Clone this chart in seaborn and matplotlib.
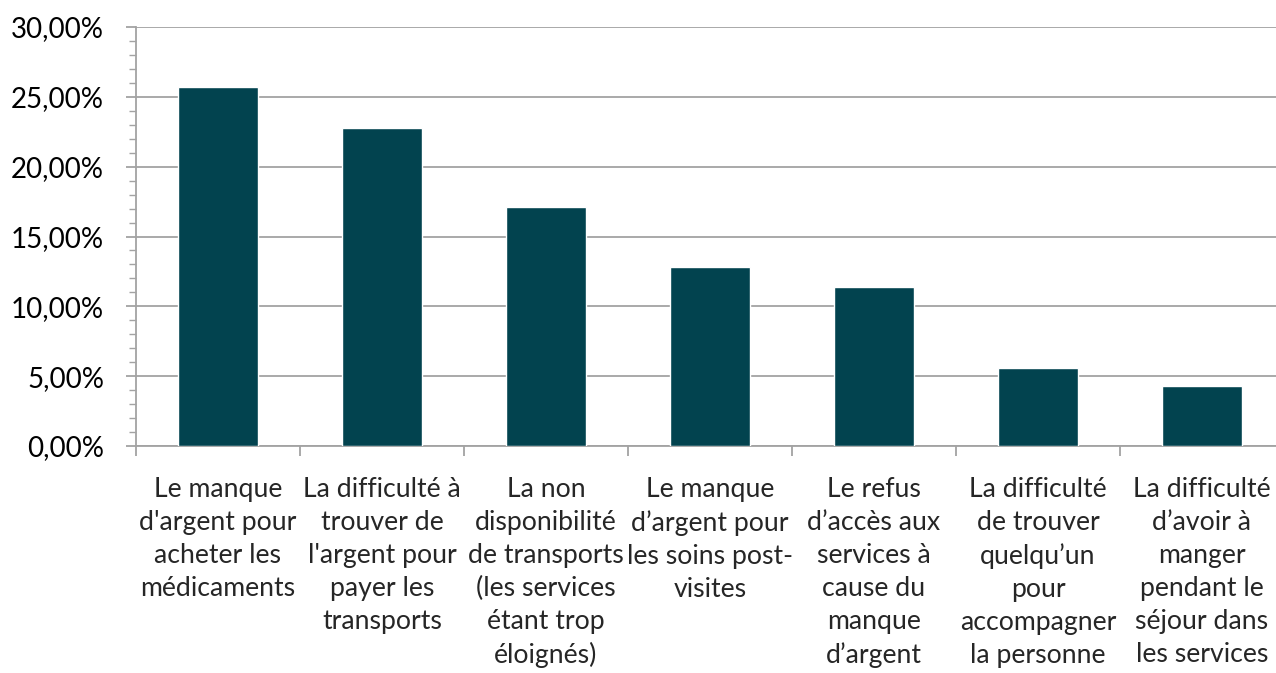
import numpy as np
import pandas as pd
import matplotlib
matplotlib.use("Agg")
import matplotlib.pyplot as plt
from matplotlib.ticker import FuncFormatter, MultipleLocator
import seaborn as sns

# Chart data
categories = [
    "Le manque\nd'argent pour\nacheter les\nmédicaments",
    "La difficulté à\ntrouver de\nl'argent pour\npayer les\ntransports",
    "La non\ndisponibilité\nde transports\n(les services\nétant trop\néloignés)",
    "Le manque\nd’argent pour\nles soins post-\nvisites",
    "Le refus\nd’accès aux\nservices à\ncause du\nmanque\nd’argent",
    "La difficulté\nde trouver\nquelqu’un\npour\naccompagner\nla personne",
    "La difficulté\nd’avoir à\nmanger\npendant le\nséjour dans\nles services",
]
values = [25.7, 22.8, 17.1, 12.8, 11.4, 5.6, 4.3]
y_ticks = [0, 5, 10, 15, 20, 25, 30]

bar_color = "#02434F"
grid_color = "#a3a3a3"

sns.set_style("white")
plt.rcParams["font.family"] = ["Lato", "DejaVu Sans"]

df = pd.DataFrame({"cat": categories, "val": values})

fig = plt.figure(figsize=(12.76, 6.73), dpi=100)
ax = fig.add_axes([136 / 1276, 1 - 446 / 673, 1148 / 1276, (446 - 27) / 673])

sns.barplot(data=df, x="cat", y="val", color=bar_color, width=0.49,
            saturation=1, ax=ax, zorder=3)

ax.set_xlim(-0.5, len(categories) - 0.5)
ax.set_ylim(0, 30)
ax.set_xlabel("")
ax.set_ylabel("")

# y axis: major every 5 %, minor every 1 %
ax.set_yticks(y_ticks)
ax.yaxis.set_minor_locator(MultipleLocator(1))
ax.yaxis.set_major_formatter(FuncFormatter(lambda v, p: f"{v:.2f}".replace(".", ",") + "%"))
ax.grid(axis="y", color=grid_color, linewidth=1.3, zorder=0)
ax.tick_params(axis="y", which="major", length=7, width=1.3, color=grid_color,
               labelsize=20, pad=16, labelcolor="black", left=True)
ax.tick_params(axis="y", which="minor", length=5, width=1.0, color=grid_color, left=True)

# x axis: labels at category centres, ticks between categories
ax.set_xticks(range(len(categories)))
ax.set_xticklabels(categories, linespacing=1.4)
ax.set_xticks(np.arange(-0.5, len(categories), 1), minor=True)
ax.tick_params(axis="x", which="major", length=0, labelsize=19.2, pad=22)
ax.tick_params(axis="x", which="minor", length=7, width=1.3, color=grid_color, bottom=True)
for lab in ax.get_xticklabels():
    lab.set_verticalalignment("top")

for side in ["top", "right"]:
    ax.spines[side].set_visible(False)
for side in ["left", "bottom"]:
    ax.spines[side].set_color(grid_color)
    ax.spines[side].set_linewidth(1.3)

fig.savefig("out.png", dpi=100)
